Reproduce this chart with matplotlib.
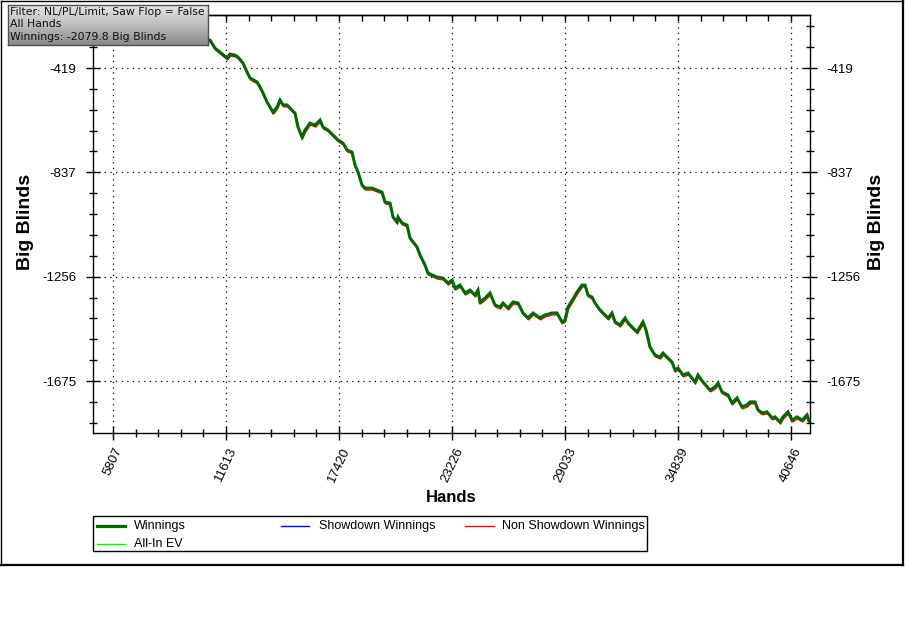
import matplotlib
matplotlib.use('Agg')
import matplotlib.pyplot as plt
import numpy as np
from matplotlib.ticker import MultipleLocator, FixedLocator
from matplotlib.patches import Rectangle
from matplotlib.lines import Line2D
from matplotlib.colors import LinearSegmentedColormap
import matplotlib.transforms as mtransforms

# ---------------- data ----------------
hands = [7708, 9250, 10278, 10791, 11048, 11305, 11665, 11819, 12076, 12230,
         12487, 12693, 12847, 13206, 13361, 13515, 13720, 14029, 14234, 14388,
         14542, 14748, 15005, 15159, 15313, 15519, 15673, 15930, 16187, 16444,
         16598, 16855, 17112, 17369, 17626, 17831, 18088, 18242, 18396, 18602,
         18756, 19116, 19373, 19630, 19784, 20041, 20195, 20400, 20452, 20657,
         20914, 21068, 21428, 21582, 21839, 21993, 22456, 22764, 23021, 23227,
         23381, 23638, 23895, 24151, 24408, 24563, 24665, 24922, 25179, 25436,
         25693, 25847, 26104, 26361, 26618, 26875, 27132, 27389, 27748, 28005,
         28365, 28622, 28879, 29033, 29187, 29444, 29650, 29907, 30061, 30215,
         30420, 30575, 30832, 31088, 31243, 31448, 31602, 31859, 32116, 32270,
         32527, 32733, 32887, 33041, 33195, 33401, 33658, 33915, 34069, 34326,
         34531, 34685, 34840, 35096, 35353, 35713, 35867, 36124, 36484, 36741,
         36895, 37100, 37409, 37614, 37871, 38128, 38385, 38539, 38796, 38950,
         39156, 39413, 39670, 39824, 40081, 40235, 40492, 40697, 40954, 41211,
         41468, 41571]
winnings = [-234, -267, -291, -307, -339, -355, -379, -363, -367, -375,
            -399, -435, -459, -475, -495, -519, -555, -596, -576, -547,
            -567, -567, -588, -600, -656, -696, -668, -640, -648, -628,
            -656, -668, -688, -708, -720, -748, -756, -808, -836, -888,
            -901, -901, -909, -917, -957, -961, -1017, -1037, -1017, -1041,
            -1049, -1101, -1137, -1169, -1210, -1242, -1258, -1262, -1282, -1270,
            -1302, -1290, -1322, -1310, -1330, -1310, -1358, -1342, -1322, -1370,
            -1378, -1362, -1382, -1358, -1362, -1402, -1422, -1402, -1422, -1410,
            -1402, -1402, -1438, -1430, -1378, -1346, -1318, -1290, -1290, -1330,
            -1338, -1362, -1390, -1410, -1422, -1402, -1438, -1450, -1422, -1442,
            -1462, -1478, -1458, -1438, -1470, -1539, -1571, -1579, -1563, -1583,
            -1599, -1631, -1623, -1651, -1643, -1679, -1651, -1679, -1711, -1699,
            -1683, -1719, -1731, -1763, -1743, -1779, -1771, -1759, -1759, -1791,
            -1803, -1799, -1823, -1819, -1840, -1819, -1799, -1832, -1819, -1832,
            -1811, -1835]

x_ticks = [5806.5, 11613, 17419.5, 23226, 29032.5, 34839, 40645.5]
x_tick_labels = ['5807', '11613', '17420', '23226', '29033', '34839', '40646']
y_ticks = [-418.75, -837.5, -1256.25, -1675]
y_tick_labels = ['-419', '-837', '-1256', '-1675']
x_limits = [4779, 41622]
y_limits = [-1883.7, -206.0]

legend_labels = ['Winnings', 'Showdown Winnings', 'Non Showdown Winnings', 'All-In EV']
info_lines = ['Filter: NL/PL/Limit, Saw Flop = False', 'All Hands',
              'Winnings: -2079.8 Big Blinds']

# ---------------- layout helpers ----------------
W, H = 905, 639
fig = plt.figure(figsize=(W / 100, H / 100), dpi=100)
fig.patch.set_facecolor('white')


def fx(px):
    return px / W


def fy(py):
    return 1 - py / H


SANS = ['Liberation Sans', 'DejaVu Sans']
plt.rcParams['font.family'] = SANS

ax = fig.add_axes([fx(93), fy(433), fx(810) - fx(93), fy(15) - fy(433)])
ax.set_facecolor('white')

# non showdown (red) peeks under the green winnings line
red_tr = mtransforms.offset_copy(ax.transData, fig=fig, x=0.6, y=-1.9, units='dots')
ax.plot(hands, winnings, color='#ff0000', lw=1.0, transform=red_tr, zorder=3)
ax.plot(hands, winnings, color='#006a00', lw=2.2, zorder=4,
        solid_joinstyle='miter')

ax.set_xlim(*x_limits)
ax.set_ylim(*y_limits)

ax.xaxis.set_major_locator(FixedLocator(x_ticks))
ax.set_xticklabels(x_tick_labels, rotation=65, ha='center', va='top',
                   fontsize=9.5, family=SANS)
ax.xaxis.set_minor_locator(MultipleLocator(5806.5 / 5))
ax.yaxis.set_major_locator(FixedLocator(y_ticks))
ax.set_yticklabels(y_tick_labels, fontsize=9.5, family=SANS)
ax.yaxis.set_minor_locator(MultipleLocator(418.75 / 5))

ax.tick_params(axis='both', which='major', direction='inout', length=10,
               width=1, colors='black', pad=4)
ax.tick_params(axis='both', which='minor', direction='inout', length=5.5,
               width=1, colors='black')
ax.tick_params(axis='y', which='both', left=True, right=True,
               labelleft=True, labelright=True, pad=7)
ax.tick_params(axis='x', which='both', top=False, bottom=True)

secax = ax.secondary_xaxis('top')
secax.xaxis.set_major_locator(FixedLocator(x_ticks))
secax.xaxis.set_minor_locator(MultipleLocator(5806.5 / 5))
secax.tick_params(axis='x', which='both', direction='in', length=4, width=1,
                  labeltop=False, colors='black')

for sp in ax.spines.values():
    sp.set_color('black')
    sp.set_linewidth(1.0)
secax.spines['top'].set_linewidth(1.0)

ax.grid(True, which='major', color='black', linestyle=(0, (1, 3.5)),
        linewidth=0.9)
ax.set_axisbelow(True)

# axis titles
fig.text(fx(26), fy(222), 'Big Blinds', rotation=90, ha='center', va='center',
         fontsize=14, fontweight='bold', family=SANS)
fig.text(fx(876), fy(222), 'Big Blinds', rotation=90, ha='center', va='center',
         fontsize=14, fontweight='bold', family=SANS)
fig.text(fx(451), fy(497), 'Hands', ha='center', va='center',
         fontsize=12, fontweight='bold', family=SANS)

# ---------------- legend (drawn by hand, fixed column positions) ----------------
fig.add_artist(Rectangle((fx(93), fy(551)), fx(647) - fx(93), fy(516) - fy(551),
                         transform=fig.transFigure, fill=False, ec='black', lw=1.0))
leg_colors = ['#006a00', '#0000ff', '#ff0000', '#00ff00']
leg_widths = [2.3, 1.0, 1.0, 1.0]
leg_line_x = [(97, 125), (281, 309), (465, 494), (97, 125)]
leg_text_x = [134, 319, 502, 134]
leg_y = [526, 526, 526, 544]
for lab, c, lw, (x0, x1), tx, yy in zip(legend_labels, leg_colors, leg_widths,
                                         leg_line_x, leg_text_x, leg_y):
    fig.add_artist(Line2D([fx(x0), fx(x1)], [fy(yy), fy(yy)], color=c, lw=lw,
                          transform=fig.transFigure))
    fig.text(fx(tx), fy(yy), lab, ha='left', va='center', fontsize=9,
             family=SANS)

# ---------------- outer frame ----------------
fig.add_artist(Line2D([fx(0.5), fx(903)], [fy(0.5), fy(0.5)], color='black',
                      lw=1.0, transform=fig.transFigure))
fig.add_artist(Line2D([fx(0.5), fx(0.5)], [fy(0.5), fy(565)], color='black',
                      lw=1.0, transform=fig.transFigure))
fig.add_artist(Line2D([fx(0.5), fx(903)], [fy(565), fy(565)], color='black',
                      lw=1.6, transform=fig.transFigure))
fig.add_artist(Line2D([fx(903), fx(903)], [fy(0.5), fy(565)], color='black',
                      lw=1.6, transform=fig.transFigure))

# ---------------- info box ----------------
bax = fig.add_axes([fx(8), fy(45), fx(208) - fx(8), fy(5) - fy(45)])
cmap = LinearSegmentedColormap.from_list('box', ['#e4e4e4', '#bdbdbd', '#8a8a8a'])
grad = np.linspace(0, 1, 64).reshape(-1, 1)
bax.imshow(grad, cmap=cmap, aspect='auto', extent=[0, 1, 0, 1])
bax.set_xlim(0, 1)
bax.set_ylim(0, 1)
bax.set_xticks([])
bax.set_yticks([])
for sp in bax.spines.values():
    sp.set_color('#505050')
    sp.set_linewidth(1.0)
for i, line in enumerate(info_lines):
    bax.text(0.012, 0.83 - i * 0.31, line, transform=bax.transAxes, ha='left',
             va='center', fontsize=7.8, family=['DejaVu Sans'], color='#111111')

fig.savefig('out.png', dpi=100, facecolor='white')
